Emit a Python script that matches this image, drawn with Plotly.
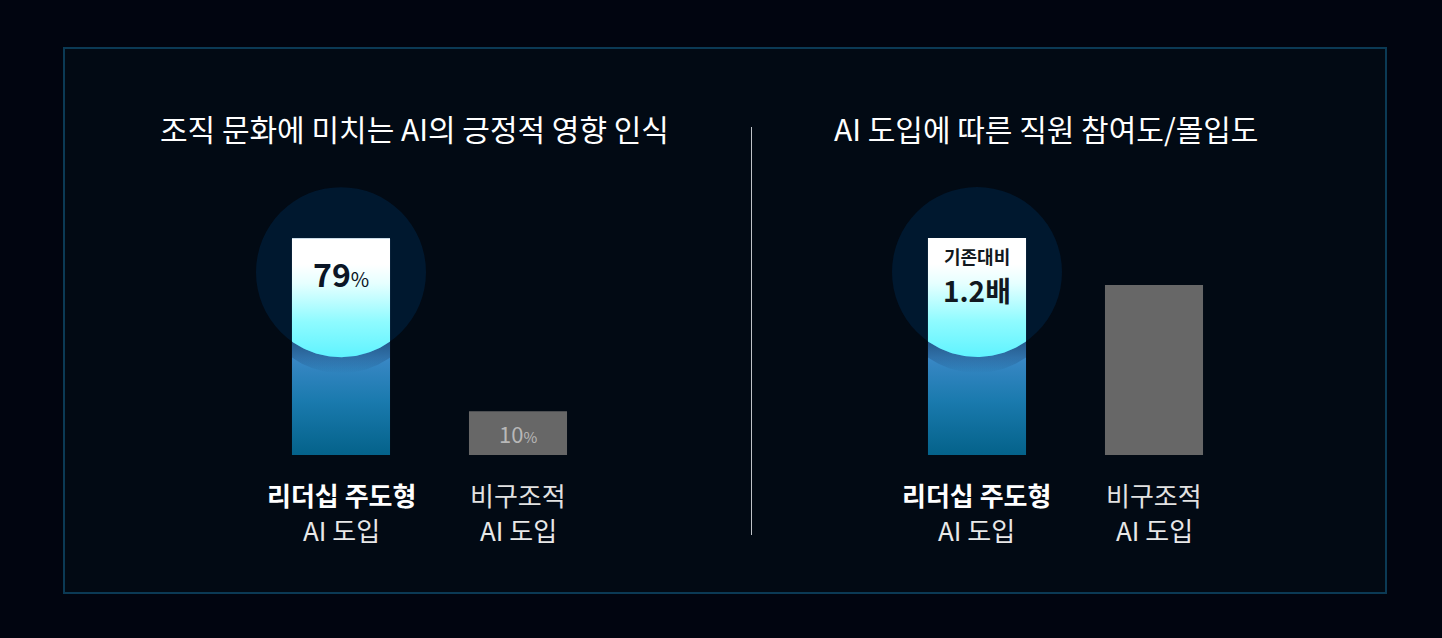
import numpy as np
import plotly.graph_objects as go

# ---------------- data ----------------
categories_line1 = ["리더십 주도형", "비구조적"]
categories_line2 = ["AI 도입", "AI 도입"]
left_title = "조직 문화에 미치는 AI의 긍정적 영향 인식"
right_title = "AI 도입에 따른 직원 참여도/몰입도"
left_values = [79, 10]          # %
right_values = [1.2, 1.0]       # relative to baseline
left_value_text = ["79", "10"]
right_value_text = ["기존대비", "1.2배"]

# ---------------- layout geometry ----------------
W, H = 1442, 638
FONT = "Noto Sans CJK KR"
BAR_W = 0.554
Y_DOM_PX = (185.5, 455.0)
XL_DOM_PX = (252.5, 606.5)
XR_DOM_PX = (888.5, 1242.5)
YL_RANGE = [-7.5, 100]
YR_RANGE = [0.2766, 1.4234]
X_RANGE = [-0.5, 1.5]
CIRCLE_R_PX = 85
CIRCLE_OFFSET_PX = 34   # circle center below top of highlighted bar

def px_x(dom):
    return [dom[0] / W, dom[1] / W]

def px_y(dom):
    return [1 - dom[1] / H, 1 - dom[0] / H]

ppx = (XL_DOM_PX[1] - XL_DOM_PX[0]) / (X_RANGE[1] - X_RANGE[0])
ppy_l = (Y_DOM_PX[1] - Y_DOM_PX[0]) / (YL_RANGE[1] - YL_RANGE[0])
ppy_r = (Y_DOM_PX[1] - Y_DOM_PX[0]) / (YR_RANGE[1] - YR_RANGE[0])

fig = go.Figure()

BG_OUT = "#010510"
BG_IN = "#020a14"
CIRCLE_COL = "#00182f"

shapes = [
    dict(type="rect", xref="paper", yref="paper", x0=64 / W, x1=1386 / W,
         y0=1 - 593 / H, y1=1 - 48 / H, line=dict(color="#0b3a55", width=2),
         fillcolor=BG_IN, layer="below"),
    dict(type="line", xref="paper", yref="paper", x0=751.5 / W, x1=751.5 / W,
         y0=1 - 535 / H, y1=1 - 127 / H, line=dict(color="#bfc3c8", width=1),
         layer="below"),
]

def add_panel(values, xa, ya, yrange, ppy):
    floor = yrange[0]
    # highlighted bar (index 0)
    v = values[0]
    xc = 0
    x0, x1 = xc - BAR_W / 2, xc + BAR_W / 2
    cy = v - CIRCLE_OFFSET_PX / ppy
    rx = CIRCLE_R_PX / ppx
    ry = CIRCLE_R_PX / ppy
    shapes.append(dict(type="circle", xref=xa, yref=ya, x0=xc - rx, x1=xc + rx,
                       y0=cy - ry, y1=cy + ry, fillcolor=CIRCLE_COL,
                       line=dict(width=0), layer="below"))
    # blue full bar
    arc_bottom = cy - ry
    frac = (arc_bottom - floor) / (v - floor)
    fig.add_trace(go.Scatter(
        x=[x0, x1, x1, x0, x0], y=[floor, floor, v, v, floor],
        xaxis=xa, yaxis=ya, mode="lines", line=dict(width=0),
        fill="toself",
        fillgradient=dict(type="vertical",
                          colorscale=[[0, "#04628a"], [frac * 0.55, "#1a7aae"],
                                      [frac, "#3a88c6"], [1, "#3a88c6"]]),
        hoverinfo="skip", showlegend=False))
    # arc
    xs = np.linspace(x0, x1, 60)
    dx = (xs - xc) * ppx
    dy = np.sqrt(np.clip(CIRCLE_R_PX ** 2 - dx ** 2, 0, None))
    arc_y = cy - dy / ppy
    # shadow band under arc
    sh = 16 / ppy
    fig.add_trace(go.Scatter(
        x=list(xs) + list(xs[::-1]), y=list(arc_y) + list((arc_y - sh)[::-1]),
        xaxis=xa, yaxis=ya, mode="lines", line=dict(width=0), fill="toself",
        fillgradient=dict(type="vertical",
                          colorscale=[[0, "rgba(20,50,90,0)"], [1, "rgba(20,50,90,0.55)"]]),
        hoverinfo="skip", showlegend=False))
    # bright part inside circle
    fig.add_trace(go.Scatter(
        x=[x0] + list(xs) + [x1, x0], y=[v] + list(arc_y) + [v, v],
        xaxis=xa, yaxis=ya, mode="lines", line=dict(width=0), fill="toself",
        fillgradient=dict(type="vertical",
                          colorscale=[[0, "#5ff3ff"], [0.3, "#8ffbff"],
                                      [0.62, "#e6ffff"], [0.78, "#ffffff"], [1, "#ffffff"]]),
        hoverinfo="skip", showlegend=False))
    # gray bar (index 1)
    g = values[1]
    gx0, gx1 = 1 - BAR_W / 2, 1 + BAR_W / 2
    fig.add_trace(go.Scatter(
        x=[gx0, gx1, gx1, gx0, gx0], y=[floor, floor, g, g, floor],
        xaxis=xa, yaxis=ya, mode="lines", line=dict(width=0), fill="toself",
        fillcolor="#676767", hoverinfo="skip", showlegend=False))
    return cy

cy_l = add_panel(left_values, "x", "y", YL_RANGE, ppy_l)
cy_r = add_panel(right_values, "x2", "y2", YR_RANGE, ppy_r)

annotations = []
# titles
for t, xc in [(left_title, 414.5), (right_title, 1046)]:
    annotations.append(dict(text=t, xref="paper", yref="paper", x=xc / W, y=1 - 128 / H,
                            xanchor="center", yanchor="middle", showarrow=False,
                            font=dict(family=FONT, size=30, color="#ffffff")))
# category labels
for xa in ["x", "x2"]:
    for i, (l1, l2) in enumerate(zip(categories_line1, categories_line2)):
        t1 = f"<b>{l1}</b>" if i == 0 else l1
        annotations.append(dict(text=t1, xref=xa, yref="paper", x=i, y=1 - 494 / H,
                                xanchor="center", yanchor="middle", showarrow=False,
                                font=dict(family=FONT, size=26,
                                          color="#ffffff" if i == 0 else "#e2e2e2")))
        annotations.append(dict(text=l2, xref=xa, yref="paper", x=i, y=1 - 529 / H,
                                xanchor="center", yanchor="middle", showarrow=False,
                                font=dict(family=FONT, size=26, color="#e8e8e8")))
# value labels left
annotations.append(dict(text=f"<b>{left_value_text[0]}</b><span style='font-size:20px'>%</span>",
                        xref="x", yref="y", x=0, y=cy_l - 1 / ppy_l,
                        xanchor="center", yanchor="middle", showarrow=False,
                        font=dict(family=FONT, size=32, color="#0b1626")))
annotations.append(dict(text=f"{left_value_text[1]}<span style='font-size:15px'>%</span>",
                        xref="x", yref="y", x=1, y=(YL_RANGE[0] + left_values[1]) / 2,
                        xanchor="center", yanchor="middle", showarrow=False,
                        font=dict(family=FONT, size=22, color="#b8b8b8")))
# value labels right
annotations.append(dict(text=f"<b>{right_value_text[0]}</b>", xref="x2", yref="paper",
                        x=0, y=1 - 256 / H, xanchor="center", yanchor="middle",
                        showarrow=False, font=dict(family=FONT, size=18, color="#111820")))
annotations.append(dict(text=f"<b>{right_value_text[1]}</b>", xref="x2", yref="paper",
                        x=0, y=1 - 290 / H, xanchor="center", yanchor="middle",
                        showarrow=False, font=dict(family=FONT, size=28, color="#111820")))

ax_common = dict(showgrid=False, zeroline=False, showticklabels=False, showline=False,
                 fixedrange=True)
fig.update_layout(
    width=W, height=H, margin=dict(l=0, r=0, t=0, b=0),
    paper_bgcolor=BG_OUT, plot_bgcolor="rgba(0,0,0,0)",
    xaxis=dict(domain=px_x(XL_DOM_PX), range=X_RANGE, **ax_common),
    yaxis=dict(domain=px_y(Y_DOM_PX), range=YL_RANGE, **ax_common),
    xaxis2=dict(domain=px_x(XR_DOM_PX), range=X_RANGE, anchor="y2", **ax_common),
    yaxis2=dict(domain=px_y(Y_DOM_PX), range=YR_RANGE, anchor="x2", **ax_common),
    shapes=shapes, annotations=annotations, showlegend=False,
    font=dict(family=FONT),
)
fig.write_html("out.html", config={"displayModeBar": False},
               post_script="document.body.style.margin='0';"
                           "document.body.style.background='" + BG_OUT + "';"
                           "document.body.style.overflow='hidden';")
